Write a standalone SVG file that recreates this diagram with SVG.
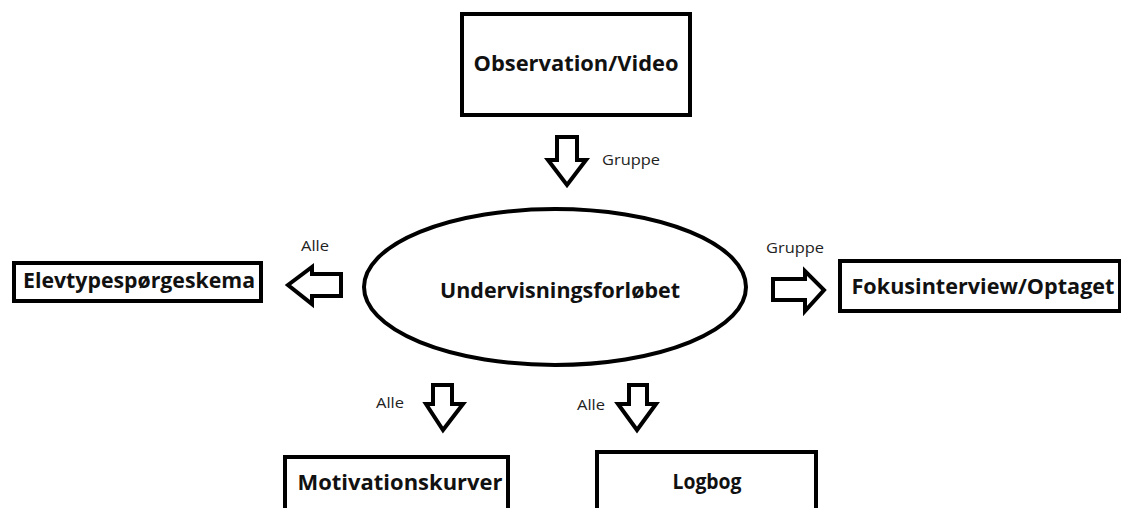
<svg xmlns="http://www.w3.org/2000/svg" width="1121" height="508" viewBox="0 0 1121 508">
  <defs>
    <style>
      .box { fill: #ffffff; stroke: #000000; stroke-width: 4; }
      .arrow { fill: #ffffff; stroke: #000000; stroke-width: 4; stroke-linejoin: miter; }
      .title { font-family: "Open Sans", "Liberation Sans", sans-serif; font-weight: bold; font-size: 22px; fill: #111111; text-anchor: middle; }
      .lbl { font-family: "Open Sans", "Liberation Sans", sans-serif; font-size: 15px; fill: #222222; }
    </style>
  </defs>
  <rect width="1121" height="508" fill="#ffffff"/>

  <g id="observation">
    <rect class="box" x="462" y="14" width="228" height="101"/>
    <text class="title" x="576" y="71" textLength="205" lengthAdjust="spacingAndGlyphs">Observation/Video</text>
  </g>

  <g id="undervisning">
    <ellipse class="box" cx="555" cy="287" rx="191" ry="78"/>
    <text class="title" x="560" y="298" textLength="240" lengthAdjust="spacingAndGlyphs">Undervisningsforløbet</text>
  </g>

  <g id="elevtype">
    <rect class="box" x="14" y="263" width="247" height="38"/>
    <text class="title" x="139" y="288" textLength="232" lengthAdjust="spacingAndGlyphs">Elevtypespørgeskema</text>
  </g>

  <g id="fokus">
    <rect class="box" x="840" y="261" width="280" height="50"/>
    <text class="title" x="983" y="294" textLength="263" lengthAdjust="spacingAndGlyphs">Fokusinterview/Optaget</text>
  </g>

  <g id="motivation">
    <rect class="box" x="285" y="457" width="223" height="60"/>
    <text class="title" x="400" y="490" textLength="205" lengthAdjust="spacingAndGlyphs">Motivationskurver</text>
  </g>

  <g id="logbog">
    <rect class="box" x="597" y="452" width="219" height="65"/>
    <text class="title" x="707" y="489" textLength="69" lengthAdjust="spacingAndGlyphs">Logbog</text>
  </g>

  <g id="connectors">
    <!-- block arrow down from Observation/Video -->
    <path class="arrow" d="M557,137 L577,137 L577,160 L586,160 L567,185 L548,160 L557,160 Z"/>
    <text class="lbl" x="602" y="165" textLength="58" lengthAdjust="spacingAndGlyphs">Gruppe</text>

    <!-- block arrow left to Elevtypespørgeskema -->
    <path class="arrow" d="M341,274 L341,296 L312,296 L312,304 L288,285 L312,267 L312,274 Z"/>
    <text class="lbl" x="301" y="251" textLength="28" lengthAdjust="spacingAndGlyphs">Alle</text>

    <!-- block arrow right to Fokusinterview/Optaget -->
    <path class="arrow" d="M773,279 L773,300 L805,300 L805,311 L824,290 L805,271 L805,279 Z"/>
    <text class="lbl" x="766" y="253" textLength="58" lengthAdjust="spacingAndGlyphs">Gruppe</text>

    <!-- block arrow down to Motivationskurver -->
    <path class="arrow" d="M433,385 L452,385 L452,404 L463,404 L443,430 L426,404 L433,404 Z"/>
    <text class="lbl" x="376" y="408" textLength="28" lengthAdjust="spacingAndGlyphs">Alle</text>

    <!-- block arrow down to Logbog -->
    <path class="arrow" d="M629,385 L647,385 L647,404 L656,404 L637,430 L618,404 L629,404 Z"/>
    <text class="lbl" x="577" y="410" textLength="28" lengthAdjust="spacingAndGlyphs">Alle</text>
  </g>
</svg>
